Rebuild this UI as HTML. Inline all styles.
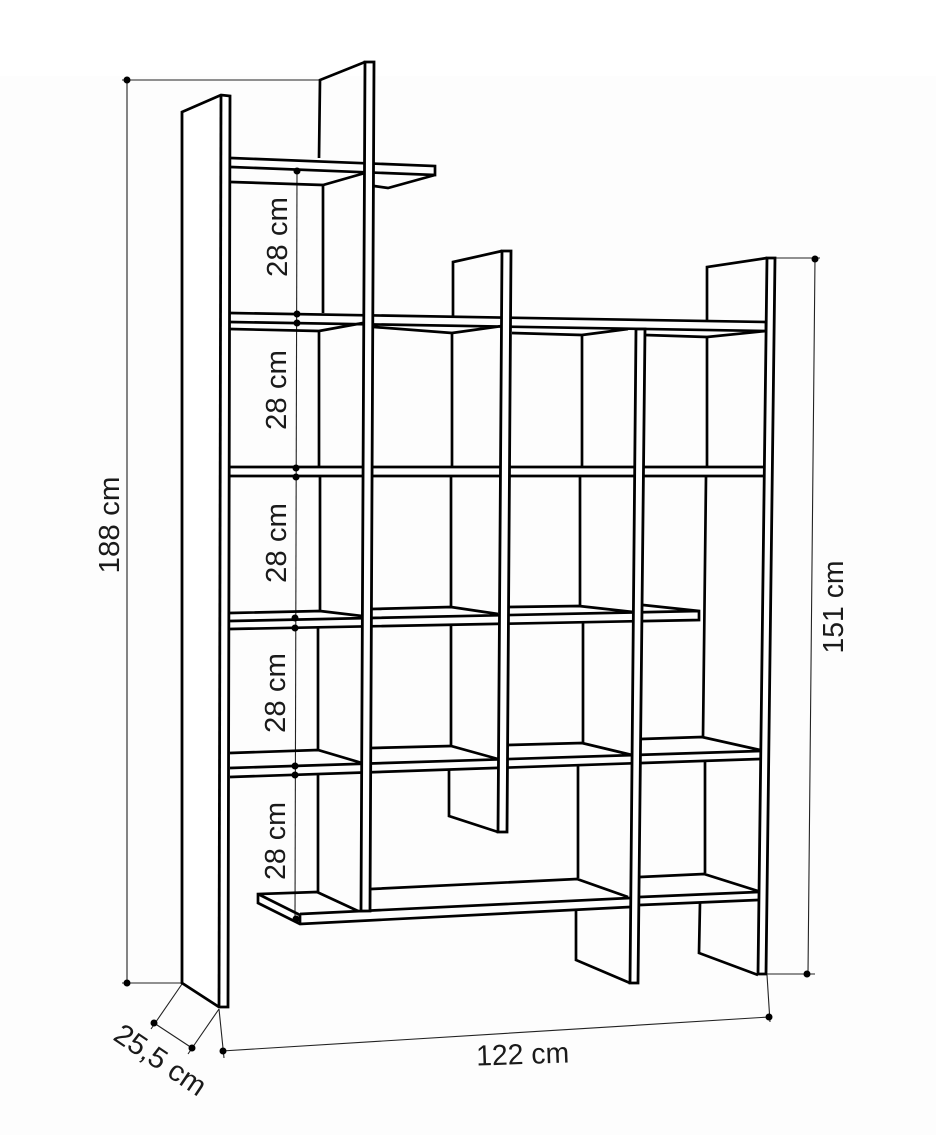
<!DOCTYPE html>
<html>
<head>
<meta charset="utf-8">
<style>
html,body{margin:0;padding:0;background:#fff;width:936px;height:1135px;overflow:hidden}
svg{display:block}
.t{font-family:"Liberation Sans",sans-serif;font-size:29px;fill:#1a1a1a;text-anchor:middle}
</style>
</head>
<body>
<svg width="936" height="1135" viewBox="0 0 936 1135" xmlns="http://www.w3.org/2000/svg">
<rect width="936" height="1135" fill="#fff"/>
<rect y="76" width="936" height="1059" fill="#fdfdfd"/>

<!-- dimension lines -->
<g stroke="#222" stroke-width="1.1" fill="none">
<path d="M122 80H320M127 80V983M122 983H182"/>
<path d="M775 258H820M815 258L808 974M766 974H815"/>
<path d="M219 1009L224 1058M767 975L770 1022M222 1051L769 1017"/>
<path d="M182 984L151 1029M219 1009L188 1054M154 1023L192 1048"/>
<path d="M297 171L295 919"/>
</g>

<!-- back edges -->
<g stroke="#000" stroke-width="2.7" fill="none" stroke-linejoin="miter">
<path d="M365 62L320 80L319 158M323 185V313M319 331V466M320 477V612M318 628V750M318 775V892"/>
<path d="M502 251L453 262V316M452 333V467M451 477V608M451 625V745M449 770V816L498 832"/>
<path d="M582 335V467M580 477V606M583 623V743M578 765V878M576 910V960L630 983"/>
<path d="M767 258L707 267V320M707 337V467M706 477L703 737M705 762V873M700 903L699 953L758 975"/>

<!-- shelf 1 -->
<path d="M231 158L435 166V175L231 167M231 182L323 185L365 173M374 186L388 188L435 175"/>
<!-- shelf 2 -->
<path d="M230 313L766 322V331L230 322M230 329L319 331L363 323M374 327L452 333L502 326M512 333L582 335L628 329M645 335L707 337L766 331"/>
<!-- shelf 3 -->
<path d="M230 467H765M230 476H765"/>
<!-- shelf 4 -->
<path d="M230 613L320 611L362 616M372 609L451 607L498 614M509 607L579 606L633 612M643 605L699 611V620L230 629M230 621L699 611"/>
<!-- shelf 5 -->
<path d="M230 753L318 750L362 763M372 748L451 746L498 759M508 745L582 743L632 755M641 739L702 737L760 750M230 768L760 751M230 777L760 759"/>
<!-- bottom shelf -->
<path d="M317 892L258 894V903L300 924L630 907M258 894L300 915V924M300 914L630 898M317 892L358 911M371 889L577 879L628 897M640 877L704 874L758 891M640 897L758 892M640 905L758 900"/>
</g>

<!-- upright front strips -->
<g stroke="#000" stroke-width="2.8" fill="#fff" stroke-linejoin="miter">
<path d="M365 62H374L370 911H361Z"/>
<path d="M502 251H511L507 832H498Z"/>
<path d="M636 329H645L638 983H630Z"/>
<path d="M767 258H775L766 974H758Z"/>
<path d="M182 112L221 95L230 96L228 1007H219L182 983Z"/>
<path d="M221 95L219 1007" fill="none"/>
</g>

<!-- dots -->
<g fill="#000">
<circle cx="127" cy="80" r="3.5"/><circle cx="127" cy="983" r="3.5"/>
<circle cx="815" cy="259" r="3.5"/><circle cx="807" cy="974" r="3.5"/>
<circle cx="223" cy="1051" r="3.5"/><circle cx="769" cy="1017" r="3.5"/>
<circle cx="154" cy="1023" r="3.5"/><circle cx="192" cy="1048" r="3.5"/>
<circle cx="297" cy="171" r="3.5"/><circle cx="297" cy="314" r="3.5"/><circle cx="297" cy="323" r="3.5"/>
<circle cx="296" cy="468" r="3.5"/><circle cx="296" cy="477" r="3.5"/>
<circle cx="295" cy="618" r="3.5"/><circle cx="295" cy="628" r="3.5"/>
<circle cx="295" cy="766" r="3.5"/><circle cx="295" cy="775" r="3.5"/><circle cx="296" cy="919" r="3.5"/>
</g>

<!-- labels -->
<text class="t" textLength="80" lengthAdjust="spacingAndGlyphs" transform="translate(287 237) rotate(-90)">28 cm</text>
<text class="t" textLength="80" lengthAdjust="spacingAndGlyphs" transform="translate(286 390) rotate(-90)">28 cm</text>
<text class="t" textLength="80" lengthAdjust="spacingAndGlyphs" transform="translate(286 543) rotate(-90)">28 cm</text>
<text class="t" textLength="80" lengthAdjust="spacingAndGlyphs" transform="translate(285 693) rotate(-90)">28 cm</text>
<text class="t" textLength="78" lengthAdjust="spacingAndGlyphs" transform="translate(285 841) rotate(-90)">28 cm</text>
<text class="t" textLength="97" lengthAdjust="spacingAndGlyphs" transform="translate(119 525) rotate(-90)">188 cm</text>
<text class="t" textLength="93" lengthAdjust="spacingAndGlyphs" transform="translate(843 607) rotate(-90)">151 cm</text>
<text class="t" textLength="93" lengthAdjust="spacingAndGlyphs" transform="translate(523 1064) rotate(-2)">122 cm</text>
<text class="t" textLength="104" lengthAdjust="spacingAndGlyphs" transform="translate(155 1068) rotate(34)">25,5 cm</text>
</svg>
</body>
</html>
